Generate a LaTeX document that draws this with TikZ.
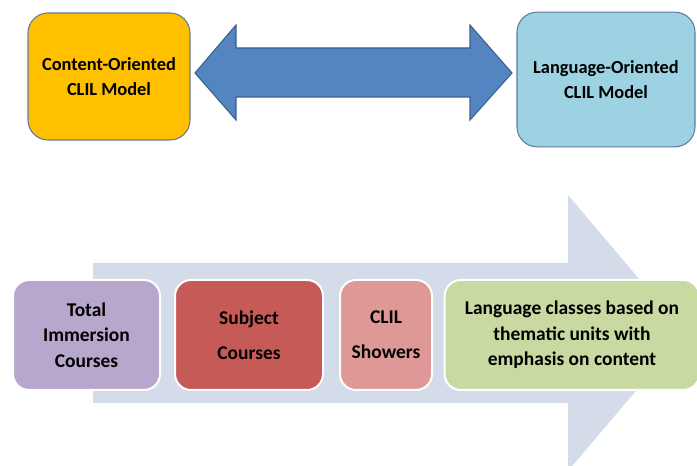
\documentclass[tikz,border=0pt]{standalone}
\usepackage{fontspec}
\setmainfont{Carlito}
\definecolor{modelline}{RGB}{96,124,162}
\definecolor{orangefill}{RGB}{255,192,0}
\definecolor{aquafill}{RGB}{156,210,226}
\definecolor{arrowblue}{RGB}{84,133,192}
\definecolor{arrowline}{RGB}{60,96,140}
\definecolor{bandfill}{RGB}{212,219,233}
\definecolor{purplefill}{RGB}{183,167,204}
\definecolor{redfill}{RGB}{198,90,86}
\definecolor{pinkfill}{RGB}{222,152,150}
\definecolor{greenfill}{RGB}{200,218,162}
\begin{document}
\begin{tikzpicture}[x = .75pt, y = -.75pt,
		model/.style = {draw = modelline, line width = .8pt, rounded corners = 15pt, inner sep = 0pt, align = center,
			font = \fontsize{13.8}{19}\selectfont\bfseries},
		stepbox/.style = {draw = white, line width = 1.5pt, rounded corners = 12pt, inner sep = 0pt, align = center,
			minimum height = 82.5pt, font = \fontsize{14.6}{19}\selectfont\bfseries}]
	\useasboundingbox (0,0) rectangle (697,466);
	\clip (0,0) rectangle (697,466);
	\fill[bandfill] (93,263)--(568,263)--(568,195)--(685,333)--(568,471)--(568,403)--(93,403)--cycle; %big arrow behind the steps
	\node[model, fill = orangefill, minimum width = 121.5pt, minimum height = 95.25pt] (content) at (109,76.5) {Content-Oriented\\CLIL Model};
	\node[model, fill = aquafill, minimum width = 133.5pt, minimum height = 101pt] (language) at (606,79.5) {Language-Oriented\\CLIL Model};
	\draw[arrowline, fill = arrowblue, line width = .8pt] (195,73)--(236,25)--(236,48)--(470,48)--(470,25)--(512,73)--(470,120)--(470,97)--(236,97)--(236,120)--cycle; %two-way arrow
	\node[stepbox, fill = purplefill, minimum width = 110.25pt] (immersion) at (86.5,335) {Total\\Immersion\\Courses};
	\node[stepbox, fill = redfill, minimum width = 111pt] (subject) at (249,335) {Subject\\[7pt]Courses};
	\node[stepbox, fill = pinkfill, minimum width = 69pt] (showers) at (386,335) {CLIL\\[7pt]Showers};
	\node[stepbox, fill = greenfill, minimum width = 191pt] (thematic) at (572,335) {Language classes based on\\thematic units with\\emphasis on content};
\end{tikzpicture}
\end{document}
